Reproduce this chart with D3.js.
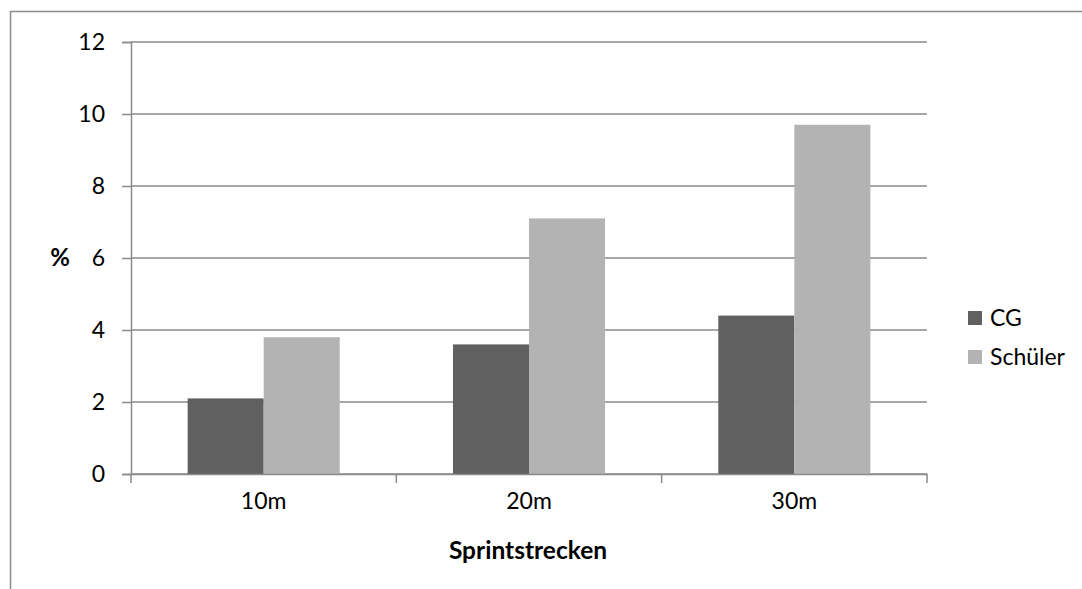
<!DOCTYPE html>
<html>
<head>
<meta charset="utf-8">
<script src="https://cdn.jsdelivr.net/npm/d3@7"></script>
<style>
  html, body { margin: 0; padding: 0; background: #fff; }
  svg { display: block; font-family: Lato, "Open Sans", sans-serif; }
</style>
</head>
<body>
<svg id="chart" width="1082" height="589"></svg>
<script>
const categories = ["10m", "20m", "30m"];
const seriesNames = ["CG", "Schüler"];
const cgValues = [2.1, 3.6, 4.4];
const schuelerValues = [3.8, 7.1, 9.7];
const yTicks = [0, 2, 4, 6, 8, 10, 12];
const colors = ["#606060", "#b3b3b3"];

(function () {
const svg = d3.select("#chart");
const gridColor = "#8a8a8a";
const fontSize = 23;

// outer frame of the chart area
svg.append("rect")
  .attr("x", 10.5).attr("y", 11.5)
  .attr("width", 1100).attr("height", 620)
  .attr("fill", "none").attr("stroke", "#8c8c8c").attr("stroke-width", 1.5);

const plotLeft = 131, plotRight = 927, plotTop = 42, plotBottom = 474;

const x = d3.scaleBand().domain(categories).range([plotLeft, plotRight]).paddingInner(0).paddingOuter(0);
const y = d3.scaleLinear().domain([0, 12]).range([plotBottom, plotTop]);
const inner = d3.scaleBand().domain(seriesNames).range([0, x.bandwidth()]).paddingOuter(0.745).paddingInner(0);

// horizontal gridlines
svg.append("g").selectAll("line").data(yTicks).join("line")
  .attr("x1", plotLeft).attr("x2", plotRight)
  .attr("y1", d => y(d)).attr("y2", d => y(d))
  .attr("stroke", gridColor).attr("stroke-width", 1.5);

// y axis
const yAxis = svg.append("g").attr("transform", `translate(${plotLeft},0)`)
  .call(d3.axisLeft(y).tickValues(yTicks).tickSize(9).tickPadding(17));
yAxis.select(".domain").attr("stroke", gridColor).attr("stroke-width", 1.5);
yAxis.selectAll(".tick line").attr("stroke", gridColor).attr("stroke-width", 1.5);
yAxis.selectAll(".tick text").attr("font-size", fontSize).attr("fill", "#000")
  .attr("font-family", "Lato, sans-serif");

// bars
const rows = categories.map((c, i) => ({ cat: c, vals: [cgValues[i], schuelerValues[i]] }));
const groups = svg.append("g").selectAll("g").data(rows).join("g")
  .attr("transform", d => `translate(${x(d.cat)},0)`);
groups.selectAll("rect").data(d => d.vals.map((v, j) => ({ name: seriesNames[j], v, j })))
  .join("rect")
  .attr("x", d => inner(d.name))
  .attr("width", inner.bandwidth())
  .attr("y", d => y(d.v))
  .attr("height", d => y(0) - y(d.v))
  .attr("fill", d => colors[d.j]);

// x axis
const xAxis = svg.append("g").attr("transform", `translate(0,${plotBottom})`)
  .call(d3.axisBottom(x).tickSize(0).tickPadding(19));
xAxis.select(".domain").attr("stroke", gridColor).attr("stroke-width", 1.5);
xAxis.selectAll(".tick text").attr("font-size", fontSize).attr("fill", "#000")
  .attr("font-family", "Lato, sans-serif");
// category boundary ticks
const boundaries = [plotLeft].concat(categories.map(c => x(c) + x.bandwidth()));
svg.append("g").selectAll("line").data(boundaries).join("line")
  .attr("x1", d => d).attr("x2", d => d)
  .attr("y1", plotBottom).attr("y2", plotBottom + 9)
  .attr("stroke", gridColor).attr("stroke-width", 1.5);

// axis titles
svg.append("text").attr("x", 60).attr("y", 258).attr("dy", "0.35em")
  .attr("text-anchor", "middle").attr("font-weight", "bold").attr("font-size", 24).text("%");
svg.append("text").attr("x", 528).attr("y", 550).attr("dy", "0.35em")
  .attr("text-anchor", "middle").attr("font-weight", "bold").attr("font-size", 24.5).text("Sprintstrecken");

// legend
const legend = svg.append("g").selectAll("g").data(seriesNames).join("g")
  .attr("transform", (d, i) => `translate(968,${318 + i * 39})`);
legend.append("rect").attr("x", 0).attr("y", -7).attr("width", 14).attr("height", 14)
  .attr("fill", (d, i) => colors[i]);
legend.append("text").attr("x", 22).attr("y", 0).attr("dy", "0.35em")
  .attr("font-size", fontSize).text(d => d);
})();
</script>
</body>
</html>
